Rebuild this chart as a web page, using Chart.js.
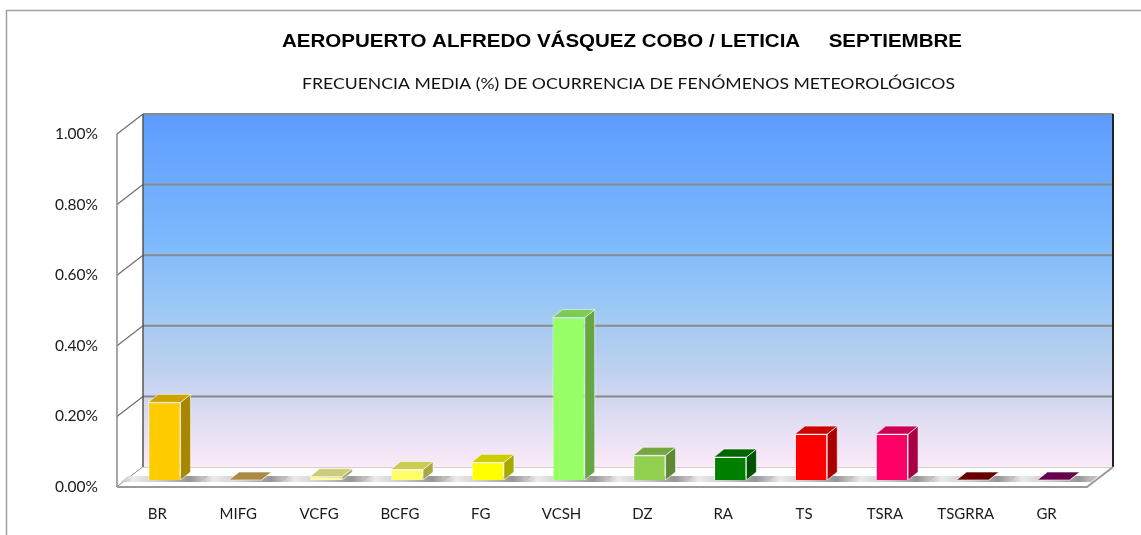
<!DOCTYPE html>
<html>
<head>
<meta charset="utf-8">
<script src="https://cdn.jsdelivr.net/npm/chart.js@4.4.1/dist/chart.umd.min.js"></script>
<style>
  html, body { margin: 0; padding: 0; background: #ffffff; }
  #wrap { width: 1141px; height: 535px; }
</style>
</head>
<body>
<div id="wrap"><canvas id="c" width="1141" height="535"></canvas></div>
<script>
// ---- data ----
const categories = ['BR', 'MIFG', 'VCFG', 'BCFG', 'FG', 'VCSH', 'DZ', 'RA', 'TS', 'TSRA', 'TSGRRA', 'GR'];
const frequencyPct = [0.22, 0, 0.01, 0.03, 0.05, 0.46, 0.07, 0.065, 0.13, 0.13, 0, 0];
const barColors = ['#FFCC00', '#D6AA55', '#FFFF99', '#FFFF66', '#FFFF00', '#99FF66', '#92D050', '#008000', '#FF0000', '#FF0066', '#800000', '#800060'];
const yTicks = [0, 0.2, 0.4, 0.6, 0.8, 1.0];
const titleText = 'AEROPUERTO ALFREDO VÁSQUEZ COBO / LETICIA     SEPTIEMBRE';
const subtitleText = 'FRECUENCIA MEDIA (%) DE OCURRENCIA DE FENÓMENOS METEOROLÓGICOS';

// ---- geometry of the 3D look ----
const DX = 26, DY = -20;      // depth of the walls
const BX = 7, BY = -7;        // bar offset inside depth
const SX = 10, SY = -8;       // bar depth

function shade(hex, f) {
  const n = parseInt(hex.slice(1), 16);
  const r = Math.round(((n >> 16) & 255) * f);
  const g = Math.round(((n >> 8) & 255) * f);
  const b = Math.round((n & 255) * f);
  return `rgb(${r},${g},${b})`;
}

const wallsPlugin = {
  id: 'walls',
  beforeDatasetsDraw(chart) {
    const { ctx, chartArea: a, scales: { y } } = chart;
    const L = a.left, R = a.right, T = a.top, B = a.bottom;
    ctx.save();
    // back wall
    const g = ctx.createLinearGradient(0, T + DY, 0, B + DY);
    g.addColorStop(0, '#5C9CFF');
    g.addColorStop(0.35, '#7CB8FC');
    g.addColorStop(0.55, '#9CC8F4');
    g.addColorStop(0.72, '#BDD0EE');
    g.addColorStop(0.86, '#DEDCF2');
    g.addColorStop(1, '#FCEAF8');
    ctx.fillStyle = g;
    ctx.fillRect(L + DX, T + DY, R - L, B - T);
    // side wall (left)
    ctx.fillStyle = '#ffffff';
    ctx.beginPath();
    ctx.moveTo(L, T); ctx.lineTo(L + DX, T + DY); ctx.lineTo(L + DX, B + DY); ctx.lineTo(L, B);
    ctx.closePath(); ctx.fill();
    // gridlines on back wall + side wall diagonals
    yTicks.forEach(v => {
      const yy = y.getPixelForValue(v);
      ctx.strokeStyle = '#8a8a8a';
      ctx.lineWidth = 2;
      if (v > 0) {
        ctx.beginPath();
        ctx.moveTo(L + DX, yy + DY); ctx.lineTo(R + DX, yy + DY);
        ctx.stroke();
      }
      ctx.strokeStyle = '#6e6e6e';
      ctx.lineWidth = 1.2;
      ctx.beginPath();
      ctx.moveTo(L, yy); ctx.lineTo(L + DX, yy + DY);
      ctx.stroke();
    });
    // back wall edges
    ctx.strokeStyle = '#555';
    ctx.lineWidth = 1.5;
    ctx.beginPath();
    ctx.moveTo(L + DX, B + DY); ctx.lineTo(L + DX, T + DY);
    ctx.stroke();
    ctx.strokeStyle = '#222';
    ctx.lineWidth = 2;
    ctx.beginPath();
    ctx.moveTo(R + DX, T + DY); ctx.lineTo(R + DX, B + DY);
    ctx.stroke();
    // front-left vertical edge
    ctx.strokeStyle = '#8a8a8a';
    ctx.lineWidth = 1.5;
    ctx.beginPath();
    ctx.moveTo(L, T); ctx.lineTo(L, B);
    ctx.stroke();
    // floor
    ctx.fillStyle = '#ffffff';
    ctx.beginPath();
    ctx.moveTo(L, B); ctx.lineTo(R, B); ctx.lineTo(R + DX, B + DY); ctx.lineTo(L + DX, B + DY);
    ctx.closePath(); ctx.fill();
    // shadow band on the floor
    const n = categories.length;
    const bw = (R - L) / n;
    for (let i = 0; i < n; i++) {
      const x0 = L + i * bw + 4, x1 = L + (i + 1) * bw + 4;
      const sg = ctx.createLinearGradient(x0, 0, x1, 0);
      sg.addColorStop(0, 'rgba(190,190,190,1)');
      sg.addColorStop(0.15, 'rgba(235,235,235,1)');
      sg.addColorStop(0.5, 'rgba(200,200,200,1)');
      sg.addColorStop(0.85, 'rgba(150,150,150,1)');
      sg.addColorStop(1, 'rgba(190,190,190,1)');
      ctx.fillStyle = sg;
      ctx.beginPath();
      ctx.moveTo(x0, B - 5); ctx.lineTo(x1, B - 5); ctx.lineTo(x1 + 7, B - 11); ctx.lineTo(x0 + 7, B - 11);
      ctx.closePath(); ctx.fill();
    }
    ctx.strokeStyle = '#d0d0d0';
    ctx.lineWidth = 1;
    ctx.beginPath();
    ctx.moveTo(L + DX, B + DY + 0.5); ctx.lineTo(R + DX, B + DY + 0.5);
    ctx.stroke();
    ctx.strokeStyle = '#9a9a9a';
    ctx.lineWidth = 2;
    ctx.beginPath();
    ctx.moveTo(L, B); ctx.lineTo(R, B); ctx.lineTo(R + DX, B + DY);
    ctx.stroke();
    ctx.restore();
    // shift bars into the depth
    ctx.save();
    ctx.translate(BX, BY);
  },
  afterDatasetsDraw(chart) {
    const { ctx } = chart;
    const meta = chart.getDatasetMeta(0);
    meta.data.forEach((bar, i) => {
      const p = bar.getProps(['x', 'y', 'base', 'width'], true);
      const l = p.x - p.width / 2, r = p.x + p.width / 2, t = p.y, b = p.base;
      const col = barColors[i];
      // side
      ctx.fillStyle = shade(col, 0.66);
      ctx.beginPath();
      ctx.moveTo(r, t); ctx.lineTo(r + SX, t + SY); ctx.lineTo(r + SX, b + SY); ctx.lineTo(r, b);
      ctx.closePath(); ctx.fill();
      ctx.strokeStyle = 'rgba(255,255,255,0.6)'; ctx.lineWidth = 1; ctx.stroke();
      // top
      ctx.fillStyle = shade(col, 0.8);
      ctx.beginPath();
      ctx.moveTo(l, t); ctx.lineTo(l + SX, t + SY); ctx.lineTo(r + SX, t + SY); ctx.lineTo(r, t);
      ctx.closePath(); ctx.fill();
      ctx.stroke();
    });
    ctx.restore();
  }
};

function fitText(ctx, text, cx, cy, width) {
  const w = ctx.measureText(text).width;
  ctx.save();
  ctx.translate(cx, cy);
  ctx.scale(width / w, 1);
  ctx.fillText(text, 0, 0);
  ctx.restore();
}

const titlesPlugin = {
  id: 'titles',
  afterDraw(chart) {
    const { ctx } = chart;
    ctx.save();
    ctx.fillStyle = '#000';
    ctx.textAlign = 'center';
    ctx.textBaseline = 'middle';
    ctx.font = 'bold 19px "Liberation Sans", Arial, sans-serif';
    fitText(ctx, titleText, 622, 42, 680);
    ctx.font = '16px Lato, "Open Sans", sans-serif';
    ctx.fillStyle = '#111';
    fitText(ctx, subtitleText, 628.5, 84, 653);
    ctx.restore();
  }
};

const borderPlugin = {
  id: 'frame',
  beforeDraw(chart) {
    const { ctx } = chart;
    ctx.save();
    ctx.strokeStyle = '#a0a0a0';
    ctx.lineWidth = 1.5;
    ctx.beginPath();
    ctx.moveTo(6.5, 560); ctx.lineTo(6.5, 10.5); ctx.lineTo(1160, 10.5);
    ctx.stroke();
    ctx.restore();
  }
};

new Chart(document.getElementById('c'), {
  type: 'bar',
  data: {
    labels: categories,
    datasets: [{
      data: frequencyPct,
      backgroundColor: barColors,
      borderColor: 'rgba(255,255,255,0.6)',
      borderWidth: 1,
      categoryPercentage: 1,
      barPercentage: 0.4
    }]
  },
  options: {
    responsive: false,
    animation: false,
    events: [],
    layout: { padding: { top: 134, right: 54, left: 0, bottom: 0 } },
    plugins: { legend: { display: false }, tooltip: { enabled: false }, title: { display: false } },
    scales: {
      x: {
        grid: { display: false, drawTicks: false },
        border: { display: false },
        ticks: { padding: 18, color: '#1a1a1a', font: { family: 'Lato, "Open Sans", sans-serif', size: 15 }, maxRotation: 0 },
        afterFit: s => { s.height = 48; }
      },
      y: {
        min: 0, max: 1,
        grid: { display: false, drawTicks: false },
        border: { display: false },
        afterBuildTicks: s => { s.ticks = yTicks.map(v => ({ value: v })); },
        ticks: {
          padding: 19, color: '#1a1a1a',
          font: { family: 'Lato, "Open Sans", sans-serif', size: 15.5 },
          callback: v => v.toFixed(2) + '%'
        },
        afterFit: s => { s.width = 117; }
      }
    }
  },
  plugins: [borderPlugin, wallsPlugin, titlesPlugin]
});
</script>
</body>
</html>
